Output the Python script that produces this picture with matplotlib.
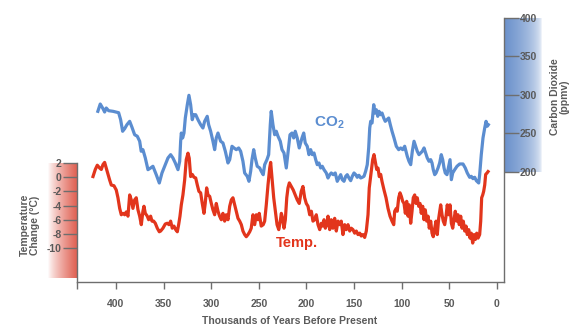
import matplotlib.pyplot as plt
import numpy as np

plt.rcParams['font.family'] = ['Liberation Sans', 'DejaVu Sans']
plt.rcParams['mathtext.fontset'] = 'custom'
plt.rcParams['mathtext.rm'] = 'Liberation Sans:bold'
plt.rcParams['mathtext.bf'] = 'Liberation Sans:bold'

# CO2 record (thousands of years before present, ppmv)
co2_kyr = [419.0, 416.5, 413.6, 411.9, 410.2, 407.7, 403.1, 397.2, 395.1, 393.0,
           390.9, 388.5, 385.6, 383.2, 380.4, 377.6, 375.1, 373.5, 371.7, 369.2,
           366.4, 363.6, 361.2, 357.7, 354.5, 351.7, 348.9, 345.4, 342.6, 340.2,
           337.7, 334.9, 333.1, 332.1, 331.4, 330.0, 328.6, 327.2, 325.1, 323.4,
           321.6, 319.9, 318.4, 316.3, 313.9, 311.1, 308.7, 306.9, 304.2, 302.7,
           300.6, 298.2, 296.4, 294.7, 292.9, 290.1, 287.7, 285.2, 282.4, 280.6,
           278.2, 276.1, 273.7, 271.2, 269.1, 266.7, 264.9, 262.2, 260.4, 258.6,
           257.2, 255.4, 253.8, 251.7, 249.1, 247.5, 245.4, 243.9, 241.5, 239.7,
           238.0, 237.0, 235.2, 233.4, 231.7, 229.9, 227.5, 225.7, 223.6, 221.2,
           219.4, 217.3, 215.2, 213.4, 211.8, 209.7, 207.6, 204.7, 202.9, 201.3,
           199.2, 197.4, 195.6, 193.9, 192.1, 190.3, 188.7, 186.9, 185.1, 183.4,
           181.6, 179.2, 177.4, 175.6, 174.0, 171.9, 169.8, 167.7, 165.9, 164.1,
           162.4, 160.6, 158.8, 157.2, 155.4, 153.6, 151.9, 150.1, 148.3, 146.7,
           144.9, 143.1, 141.4, 139.6, 137.9, 136.2, 134.7, 133.6, 132.6, 131.2,
           129.4, 128.1, 126.7, 125.2, 123.9, 122.1, 120.7, 118.9, 117.3, 115.5,
           113.7, 112.0, 110.2, 108.1, 105.7, 103.2, 101.1, 99.0, 96.9, 94.2,
           92.4, 90.6, 88.9, 87.1, 85.4, 83.7, 81.9, 80.1, 78.4, 76.6,
           74.9, 73.2, 71.4, 69.6, 68.2, 66.9, 65.4, 64.0, 61.9, 60.2,
           58.5, 57.0, 55.6, 54.3, 52.5, 50.7, 49.3, 47.9, 46.5, 44.4,
           42.0, 39.2, 35.7, 33.3, 31.2, 28.7, 27.0, 25.2, 23.4, 21.7,
           19.2, 18.2, 16.5, 14.7, 12.9, 11.5, 10.2, 9.1]
co2_ppmv = [278.8, 288.3, 282.2, 277.9, 283.1, 279.6, 278.8, 277.0, 267.9, 252.9,
            256.2, 261.4, 265.8, 258.1, 248.4, 246.4, 239.9, 226.9, 229.0, 218.2,
            203.0, 205.2, 207.4, 196.5, 185.7, 198.7, 207.4, 218.2, 222.5, 218.2,
            211.7, 203.0, 213.9, 239.9, 250.6, 244.2, 250.6, 270.1, 287.4, 299.6,
            287.4, 267.9, 274.4, 274.4, 267.9, 261.4, 257.1, 265.8, 272.3, 261.4,
            252.9, 239.9, 229.0, 244.2, 250.6, 239.9, 237.7, 226.9, 211.7, 216.0,
            233.4, 231.2, 229.0, 231.2, 226.9, 213.9, 198.7, 194.4, 187.9, 200.9,
            216.0, 229.0, 218.2, 207.4, 205.2, 200.9, 196.5, 209.5, 216.0, 222.5,
            261.4, 278.8, 261.4, 248.4, 252.9, 246.4, 239.9, 229.0, 224.7, 205.2,
            224.7, 248.4, 250.6, 244.2, 252.9, 244.2, 231.2, 244.2, 250.6, 237.7,
            233.4, 222.5, 229.0, 222.5, 224.7, 216.0, 209.5, 211.7, 205.2, 207.4,
            203.0, 198.7, 192.2, 196.5, 198.7, 196.5, 198.7, 187.9, 192.2, 196.5,
            190.0, 187.9, 194.4, 196.5, 192.2, 188.7, 194.4, 198.7, 196.5, 193.1,
            195.7, 192.2, 193.1, 194.4, 200.9, 209.5, 231.2, 257.1, 265.8, 263.6,
            287.4, 276.6, 280.9, 272.3, 278.8, 274.4, 276.6, 270.1, 265.8, 267.9,
            270.1, 261.4, 252.9, 244.2, 233.4, 229.0, 231.2, 229.0, 233.4, 220.4,
            213.9, 209.5, 226.9, 239.9, 233.4, 226.9, 222.5, 224.7, 226.9, 231.2,
            224.7, 218.2, 213.9, 216.0, 211.7, 203.0, 196.5, 198.7, 205.2, 211.7,
            222.5, 216.0, 205.2, 198.7, 196.5, 207.4, 216.0, 190.0, 198.7, 203.0,
            207.4, 210.4, 210.4, 205.2, 198.7, 193.1, 194.4, 191.3, 193.1, 188.7,
            185.7, 196.5, 222.5, 244.2, 257.1, 265.8, 259.4, 261.4]

# Temperature change record (thousands of years before present, deg C)
temp_kyr = [424.1, 421.7, 419.6, 417.1, 415.4, 413.6, 411.9, 410.2, 408.4, 406.6,
            404.9, 402.1, 399.7, 397.9, 396.1, 394.4, 392.6, 390.9, 389.2, 387.4,
            385.6, 383.9, 382.2, 380.4, 378.7, 376.9, 375.1, 373.4, 371.7, 370.6,
            369.2, 367.1, 365.7, 363.6, 362.2, 360.4, 358.7, 356.6, 354.5, 353.1,
            350.7, 348.2, 346.1, 344.4, 342.6, 340.9, 339.1, 337.3, 335.6, 334.2,
            332.8, 331.4, 329.7, 327.9, 326.2, 324.4, 323.1, 321.6, 319.9, 318.1,
            316.3, 314.6, 312.9, 311.1, 309.4, 307.6, 306.3, 304.8, 303.4, 301.6,
            299.9, 298.2, 296.4, 294.7, 292.9, 291.2, 289.4, 287.7, 285.9, 284.2,
            282.4, 280.6, 278.9, 277.2, 275.4, 273.7, 271.9, 270.1, 268.4, 266.7,
            264.9, 263.2, 261.4, 259.6, 258.0, 256.2, 254.4, 252.7, 250.9, 249.6,
            247.5, 245.4, 243.9, 242.2, 240.4, 238.6, 237.6, 236.2, 234.4, 232.7,
            230.9, 229.1, 227.5, 226.4, 225.0, 223.6, 222.2, 220.7, 219.4, 218.0,
            215.9, 213.9, 211.8, 209.7, 207.6, 205.5, 203.7, 201.9, 200.2, 198.4,
            196.6, 194.9, 193.2, 191.4, 189.7, 187.9, 186.1, 184.4, 183.0, 181.6,
            180.2, 178.8, 177.4, 175.6, 174.0, 172.2, 170.4, 168.7, 166.9, 165.1,
            163.5, 161.7, 159.9, 158.2, 156.4, 154.6, 153.0, 151.2, 149.4, 147.7,
            145.9, 144.1, 142.5, 140.7, 138.9, 137.2, 135.4, 134.1, 132.0, 130.5,
            129.1, 127.8, 126.3, 124.9, 123.6, 122.1, 120.7, 118.6, 116.5, 114.4,
            112.3, 110.2, 108.4, 107.4, 105.7, 104.7, 103.2, 101.8, 100.4, 99.0,
            97.6, 96.2, 94.8, 93.4, 92.1, 90.6, 89.2, 87.9, 86.4, 85.0,
            83.7, 82.2, 80.8, 79.5, 78.0, 76.6, 75.3, 73.8, 72.4, 71.1,
            69.6, 68.2, 66.9, 65.4, 64.0, 62.7, 61.2, 59.1, 57.7, 56.4,
            54.9, 53.5, 52.2, 50.7, 49.3, 47.9, 46.5, 45.1, 43.8, 42.3,
            40.9, 39.6, 38.1, 36.7, 35.4, 33.9, 32.5, 31.2, 29.7, 28.3,
            27.0, 25.5, 24.1, 22.8, 21.3, 19.9, 18.2, 17.1, 16.1, 15.0,
            14.0, 12.9, 11.9, 10.5, 9.4]
temp_c = [0.1, 1.1, 1.7, 1.3, 1.1, 1.8, 2.1, 1.3, 0.5, -0.4,
          -1.1, -1.2, -1.8, -2.9, -4.4, -5.3, -5.1, -5.3, -4.9, -5.5,
          -2.5, -3.2, -4.4, -3.2, -2.9, -4.6, -5.5, -6.7, -4.8, -4.1,
          -5.1, -5.5, -6.0, -5.5, -6.2, -6.2, -6.5, -7.2, -7.7, -7.6,
          -7.2, -6.6, -6.5, -6.7, -6.2, -7.2, -6.9, -7.4, -7.7, -6.7,
          -5.5, -3.9, -2.5, -0.4, 2.5, 3.4, 2.7, 0.1, 0.4, 0.0,
          -0.1, -1.1, -2.0, -2.2, -3.7, -5.1, -3.7, -1.5, -2.5, -2.7,
          -3.7, -4.6, -5.3, -3.7, -4.8, -5.5, -6.0, -5.1, -6.2, -5.3,
          -6.0, -4.1, -3.2, -2.9, -3.9, -4.8, -5.8, -6.2, -6.7, -7.6,
          -8.1, -8.4, -8.1, -7.7, -7.2, -5.3, -6.7, -5.3, -6.0, -5.1,
          -6.9, -6.7, -6.2, -3.9, -1.1, 1.3, 2.1, -0.1, -2.9, -4.8,
          -6.7, -7.4, -6.2, -5.1, -5.8, -7.2, -6.0, -2.9, -1.5, -0.8,
          -1.3, -1.8, -2.5, -3.2, -3.7, -2.0, -1.3, -2.9, -3.7, -4.1,
          -5.3, -4.8, -6.2, -6.0, -5.3, -6.7, -7.4, -6.5, -6.9, -6.0,
          -7.2, -6.7, -5.5, -7.4, -6.0, -7.2, -5.8, -7.6, -6.2, -6.7,
          -6.2, -8.1, -6.7, -7.4, -6.7, -7.6, -7.2, -7.4, -7.9, -7.6,
          -8.1, -7.9, -8.3, -8.1, -8.5, -7.6, -5.3, -1.5, 0.8, 2.5,
          3.2, 2.2, 1.1, 1.3, 0.1, 0.4, -0.6, -1.8, -2.9, -4.4,
          -5.5, -6.2, -6.7, -4.8, -4.4, -4.8, -2.9, -2.2, -2.7, -3.4,
          -3.7, -5.1, -3.4, -5.5, -3.9, -6.5, -4.8, -2.9, -2.5, -3.7,
          -2.9, -4.1, -3.7, -5.1, -4.1, -6.0, -4.6, -6.2, -5.5, -7.2,
          -6.2, -7.9, -8.4, -7.2, -6.2, -8.1, -5.8, -3.9, -5.3, -6.2,
          -6.7, -5.5, -3.9, -5.3, -3.9, -6.5, -7.2, -6.0, -4.8, -6.2,
          -5.3, -6.7, -5.5, -7.2, -6.2, -7.6, -6.9, -8.1, -7.4, -8.6,
          -7.9, -9.3, -8.1, -8.8, -7.9, -8.6, -8.1, -6.2, -2.9, -2.5,
          -2.0, -1.1, 0.4, 0.6, 0.8]

temp_ticks = [2, 0, -2, -4, -6, -8, -10]
co2_ticks = [200, 250, 300, 350, 400]
year_ticks = [400, 350, 300, 250, 200, 150, 100, 50, 0]

BLUE = '#5b8dd0'
RED = '#e2351c'
GRAY = '#5a5a5a'
AXIS = '#6e6e6e'

W, H = 573, 334
fig = plt.figure(figsize=(W / 100, H / 100), dpi=100)


def px_rect(x0, y0, x1, y1):
    # pixel box (top-left origin) -> figure fraction rect
    return [x0 / W, 1 - y1 / H, (x1 - x0) / W, (y1 - y0) / H]


def gradient(rgb, n=200, power=1.0, reverse=False):
    t = np.linspace(0, 1, n) ** power
    if reverse:
        t = t[::-1]
    c = np.array(rgb) / 255.0
    img = 1 - t[:, None] * (1 - c[None, :])
    return img[None, :, :]


# shaded scale bars behind the two y axes
ax_rbar = fig.add_axes(px_rect(48, 163, 77, 278))
ax_rbar.imshow(gradient((224, 96, 82), power=0.8), aspect='auto')
ax_rbar.axis('off')

ax_bbar = fig.add_axes(px_rect(505, 18, 542, 172))
ax_bbar.imshow(gradient((108, 146, 204), power=0.45, reverse=True), aspect='auto')
ax_bbar.axis('off')

ax = fig.add_axes(px_rect(77, 18, 504, 282))
ax.patch.set_alpha(0)
ax2 = ax.twinx()

ax.plot(temp_kyr, temp_c, color=RED, lw=2.3, solid_joinstyle='round')
ax2.plot(co2_kyr, co2_ppmv, color=BLUE, lw=2.3, solid_joinstyle='round')

ax.set_xlim(440.9, -7.35)
ax.set_ylim(-14.8, 22.5)
ax2.set_ylim(57.1, 400)

for s in ['top', 'right']:
    ax.spines[s].set_visible(False)
for s in ['top', 'left', 'bottom']:
    ax2.spines[s].set_visible(False)
ax.spines['left'].set_bounds(-14.8, 2)
for sp in [ax.spines['left'], ax.spines['bottom'], ax2.spines['right']]:
    sp.set_color(AXIS)
    sp.set_linewidth(1.0)

ax.set_yticks(temp_ticks)
ax.set_yticklabels([str(t) for t in temp_ticks])
ax.tick_params(axis='y', direction='out', length=10, width=1, color=AXIS,
               labelsize=7.5, labelcolor=GRAY, pad=1)
ax2.set_yticks(co2_ticks)
ax2.tick_params(axis='y', direction='out', length=10.5, width=1, color=AXIS,
                labelsize=7.5, labelcolor=GRAY, pad=1)
ax.set_xticks(year_ticks)
ax.set_xticks([440.9], minor=True)
ax.tick_params(axis='x', which='both', direction='out', length=5, width=1,
               color=AXIS, labelsize=7.5, labelcolor=GRAY, pad=7)

for lbl in ax.get_xticklabels() + ax.get_yticklabels() + ax2.get_yticklabels():
    lbl.set_fontweight('bold')

ax2.text(176, 264, r'$\mathbf{CO_2}$', color=BLUE, fontsize=11,
         ha='center', va='center')
ax.text(210, -9.3, 'Temp.', color=RED, fontsize=10.5, fontweight='bold',
        ha='center', va='center')

fig.text(290 / W, 1 - 321 / H, 'Thousands of Years Before Present', color=GRAY,
         fontsize=7.5, fontweight='bold', ha='center', va='center')
fig.text(30 / W, 1 - 225 / H, 'Temperature\nChange (\u00b0C)', color=GRAY,
         fontsize=7.5, fontweight='bold', rotation=90, ha='center', va='center',
         multialignment='center', linespacing=1.0)
fig.text(560 / W, 1 - 97 / H, 'Carbon Dioxide\n(ppmv)', color=GRAY,
         fontsize=7.5, fontweight='bold', rotation=90, ha='center', va='center',
         multialignment='center', linespacing=1.0)

fig.savefig('out.png', dpi=100)
